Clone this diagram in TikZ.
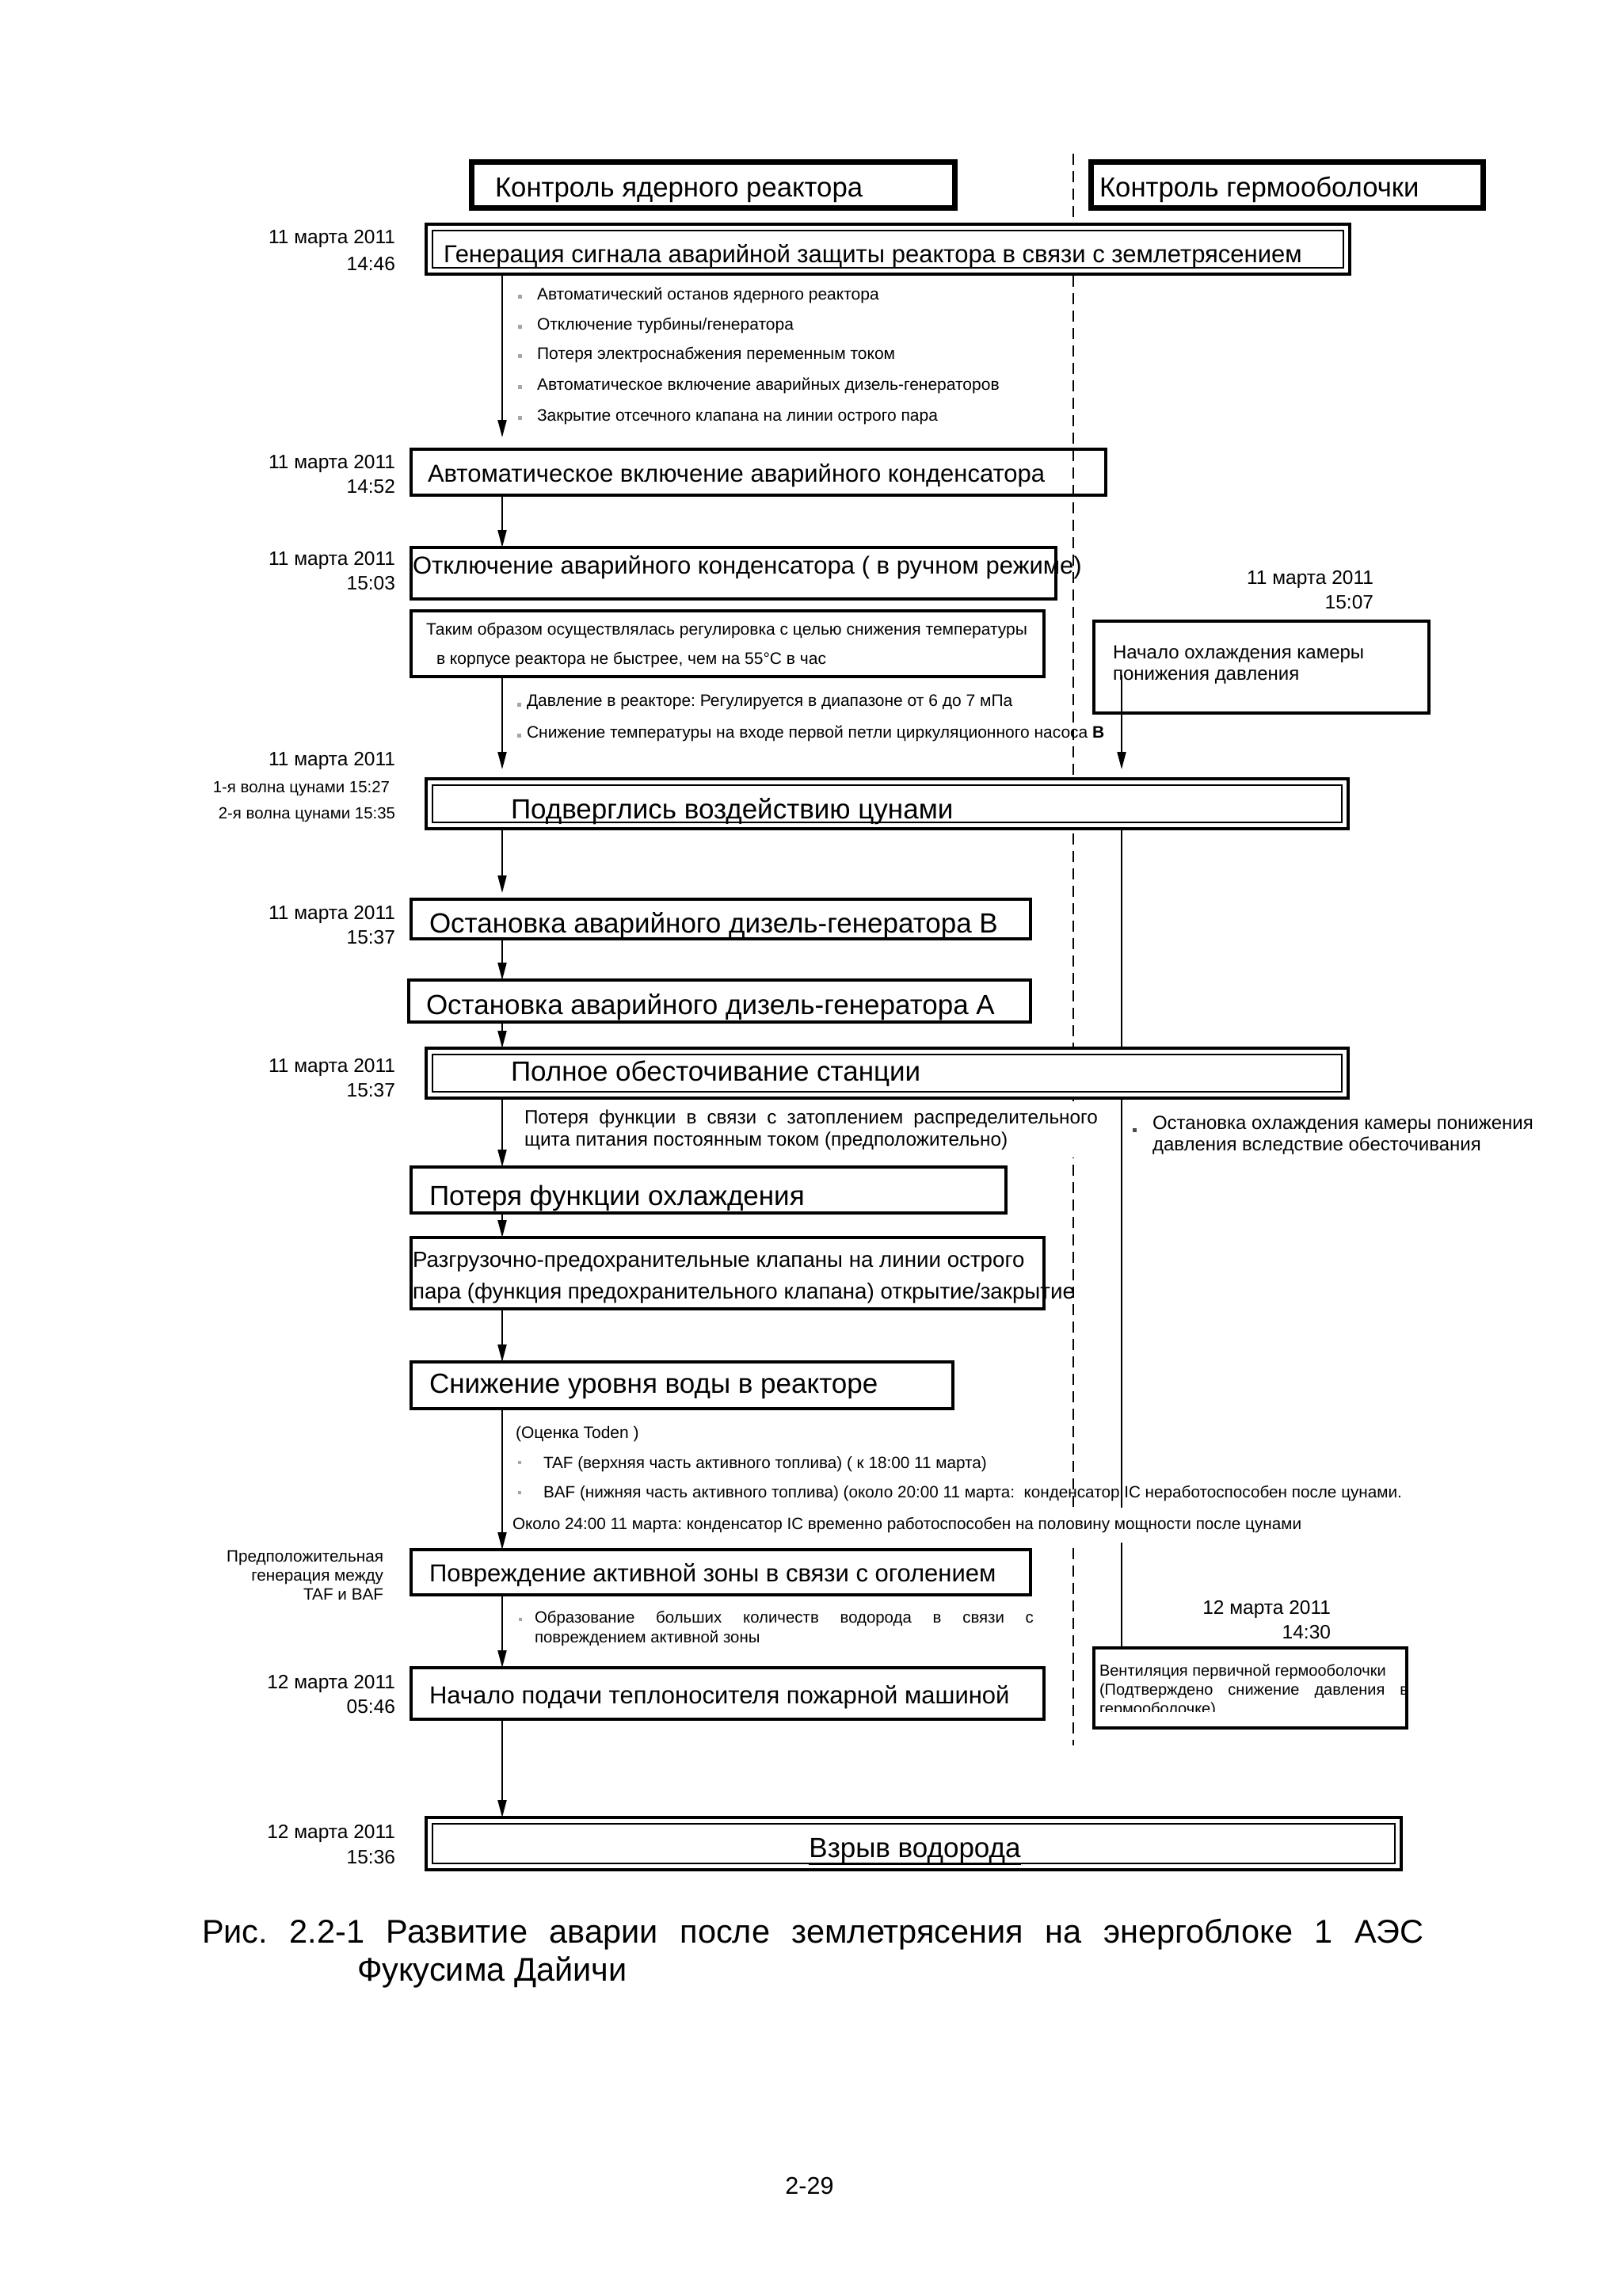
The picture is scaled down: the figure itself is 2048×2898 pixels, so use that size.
\documentclass[tikz,border=0pt]{standalone}
\usepackage{fontspec}
\setmainfont{Liberation Sans}
\usetikzlibrary{arrows.meta,fit}
\newcommand\fsz[2]{\fontsize{#1pt}{#2pt}\selectfont}
\newcommand\innerframe[1]{\draw[line width=2pt] ([shift={(8,8)}]#1.north west) rectangle ([shift={(-8,-8)}]#1.south east);}
\begin{document}
\frenchspacing
\begin{tikzpicture}[x=1pt,y=-1pt,
  every node/.style={inner sep=0pt, outer sep=0pt},
  hdr/.style={draw, line width=7pt},
  sbox/.style={draw, line width=3.5pt},
  dbox/.style={draw, line width=4.5pt, fill=white},
  arr/.style={line width=2pt, -{Triangle[length=22pt,width=11pt]}},
  ln/.style={line width=2pt},
  big/.style={font=\fsz{31}{37}, anchor=mid west},
  bigger/.style={font=\fsz{35}{40}, anchor=mid west},
  sml/.style={font=\fsz{21}{25}, anchor=mid west},
  date/.style={font=\fsz{24.5}{31}, align=right, anchor=base east},
  blt/.style={fill=black!35, minimum size=5pt}
]
\fill[white] (0,0) rectangle (2048,2898);
\useasboundingbox (0,0) rectangle (2048,2898);

\coordinate (ax) at (634,0);
\coordinate (rx) at (1416,0);
\coordinate (dtop) at (1355,194);
\coordinate (dbot) at (1355,2203);

% dashed column separator
\draw[line width=2pt, dash pattern=on 14pt off 8pt] (dtop) -- (dbot);

% boxes
\node[hdr, fit={(595,205)(1205,262)}] (h1) {};
\node[hdr, fit={(1377,205)(1872,262)}] (h2) {};
\node[dbox, fit={(538,283)(1704,346)}] (b1) {};
\node[sbox, fit={(519,567)(1396,625)}] (b2) {};
\node[sbox, fit={(519,691)(1333,756)}] (b3) {};
\node[sbox, fit={(519,771)(1318,854)}] (b4) {};
\node[sbox, fit={(1381,784)(1804,900)}] (b5) {};
\node[dbox, fit={(538,983)(1702,1046)}] (b6) {};
\node[sbox, fit={(519,1135)(1301,1185)}] (b7) {};
\node[sbox, fit={(516,1237)(1301,1290)}] (b8) {};
\node[dbox, fit={(538,1323)(1702,1386)}] (b9) {};
\node[sbox, fit={(519,1473)(1270,1531)}] (b10) {};
\node[sbox, fit={(519,1562)(1318,1652)}] (b11) {};
\node[sbox, fit={(519,1719)(1203,1778)}] (b12) {};
\node[sbox, fit={(519,1956)(1301,2013)}] (b13) {};
\node[sbox, fit={(1381,2080)(1776,2181)}] (b14) {};
\node[sbox, fit={(519,2105)(1318,2170)}] (b15) {};
\node[dbox, fit={(538,2294)(1769,2360)}] (b16) {};
\innerframe{b1}
\innerframe{b6}
\innerframe{b9}
\innerframe{b16}

% connectors
\draw[arr] (b1.south -| ax) -- ([yshift=15pt]b2.north -| ax);
\draw[arr] (b2.south -| ax) -- (b3.north -| ax);
\draw[arr] (b4.south -| ax) -- ([yshift=12pt]b6.north -| ax);
\draw[arr] ([yshift=48pt]b5.south -| rx) -- ([yshift=12pt]b6.north -| rx);
\draw[arr] (b6.south -| ax) -- ([yshift=8pt]b7.north -| ax);
\draw[arr] (b7.south -| ax) -- (b8.north -| ax);
\draw[arr] (b8.south -| ax) -- (b9.north -| ax);
\draw[arr] (b9.south -| ax) -- (b10.north -| ax);
\draw[arr] (b10.south -| ax) -- (b11.north -| ax);
\draw[arr] (b11.south -| ax) -- (b12.north -| ax);
\draw[arr] (b12.south -| ax) -- (b13.north -| ax);
\draw[arr] (b13.south -| ax) -- (b15.north -| ax);
\draw[arr] (b15.south -| ax) -- (b16.north -| ax);
\draw[ln] (b6.south -| rx) -- (b9.north -| rx);
\draw[ln] (b9.south -| rx) -- (b14.north -| rx);

% header texts
\node[font=\fsz{34.7}{40}, anchor=mid west] (th1) at (625,246) {Контроль ядерного реактора};
\node[font=\fsz{34.7}{40}, anchor=mid west] (th2) at (1388,246) {Контроль гермооболочки};

% box texts
\node[big] (t1) at (560,329) {Генерация сигнала аварийной защиты реактора в связи с землетрясением};
\node[big] (t2) at (540,606) {Автоматическое включение аварийного конденсатора};
\node[big] (t3) at (521,722) {Отключение аварийного конденсатора ( в ручном режиме)};
\node[font=\fsz{21}{37}, align=left, anchor=base west] (t4) at (538,838) {Таким образом осуществлялась регулировка с целью снижения температуры\\\hspace*{13pt}в корпусе реактора не быстрее, чем на 55°C в час};
\node[font=\fsz{24}{27}, align=left, anchor=base west] (t5) at (1405,858) {Начало охлаждения камеры\\понижения давления};
\node[bigger] (t6) at (645,1031) {Подверглись воздействию цунами};
\node[bigger] (t7) at (542,1175) {Остановка аварийного дизель-генератора В};
\node[bigger] (t8) at (538,1278) {Остановка аварийного дизель-генератора А};
\node[bigger] (t9) at (645,1362) {Полное обесточивание станции};
\node[bigger] (t10) at (542,1519) {Потеря функции охлаждения};
\node[font=\fsz{27.7}{40}, align=left, anchor=base west] (t11) at (521,1639) {Разгрузочно-предохранительные клапаны на линии острого\\пара (функция предохранительного клапана) открытие/закрытие};
\node[bigger] (t12) at (542,1756) {Снижение уровня воды в реакторе};
\node[big] (t13) at (542,1994) {Повреждение активной зоны в связи с оголением};
\node[big] (t15) at (542,2148) {Начало подачи теплоносителя пожарной машиной};
\node[bigger, anchor=mid] (t16) at (1155,2342) {\underline{Взрыв водорода}};
\begin{scope}
\clip (1383,2082) rectangle (1774,2160);
\node[font=\fsz{20}{24}, align=left, anchor=base west] (t14) at (1388,2163) {Вентиляция первичной гермооболочки\\\makebox[390pt][s]{(Подтверждено снижение давления в}\\гермооболочке)};
\end{scope}

% dates
\node[date, font=\fsz{24.5}{34}] (d1) at (499,341) {11 марта 2011\\14:46};
\node[date] (d2) at (499,622) {11 марта 2011\\14:52};
\node[date] (d3) at (499,744) {11 марта 2011\\15:03};
\node[date] (d4) at (1734,768) {11 марта 2011\\15:07};
\node[date] (d5) at (499,966) {11 марта 2011};
\node[font=\fsz{20.4}{24}, anchor=mid east] (d5a) at (492,998) {1-я волна цунами 15:27};
\node[font=\fsz{20.4}{24}, anchor=mid east] (d5b) at (499,1031) {2-я волна цунами 15:35};
\node[date] (d6) at (499,1191) {11 марта 2011\\15:37};
\node[date] (d7) at (499,1384) {11 марта 2011\\15:37};
\node[font=\fsz{20.7}{24}, align=right, anchor=base east] (d8) at (484,2019) {Предположительная\\генерация между\\TAF и BAF};
\node[date] (d9) at (1680,2068) {12 марта 2011\\14:30};
\node[date] (d10) at (499,2162) {12 марта 2011\\05:46};
\node[date, font=\fsz{24.5}{32}] (d11) at (499,2352) {12 марта 2011\\15:36};

% bullet lists
\node[blt] (p1) at (656,374) {};
\node[blt] (p2) at (656,412) {};
\node[blt] (p3) at (656,449) {};
\node[blt] (p4) at (656,488) {};
\node[blt] (p5) at (656,527) {};
\node[sml] (s1) at (678,376) {Автоматический останов ядерного реактора};
\node[sml] (s2) at (678,414) {Отключение турбины/генератора};
\node[sml] (s3) at (678,451) {Потеря электроснабжения переменным током};
\node[sml] (s4) at (678,490) {Автоматическое включение аварийных дизель-генераторов};
\node[sml] (s5) at (678,529) {Закрытие отсечного клапана на линии острого пара};

\node[blt] (p6) at (655,889) {};
\node[blt] (p7) at (655,928) {};
\node[sml] (s6) at (665,889) {Давление в реакторе: Регулируется в диапазоне от 6 до 7 мПа};
\node[sml] (s7) at (665,929) {Снижение температуры на входе первой петли циркуляционного насоса \textbf{B}};

\node[font=\fsz{24.3}{28}, align=left, anchor=base west, fill=white, inner ysep=10pt] (s8) at (662,1446) {\makebox[724pt][s]{Потеря функции в связи с затоплением распределительного}\\щита питания постоянным током (предположительно)};
\node[fill=black!70, minimum size=5pt] (p8) at (1432,1426) {};
\node[font=\fsz{24}{27}, align=left, anchor=base west] (s9) at (1455,1452) {Остановка охлаждения камеры понижения\\давления вследствие обесточивания};

\node[sml] (s10) at (651,1813) {(Оценка Toden )};
\node[blt, minimum size=4pt] (p9) at (656,1846) {};
\node[blt, minimum size=4pt] (p10) at (656,1884) {};
\node[sml, font=\fsz{20.7}{24}] (s11) at (686,1851) {TAF (верхняя часть активного топлива) ( к 18:00 11 марта)};
\node[sml, font=\fsz{20.7}{24}] (s12) at (686,1888) {BAF (нижняя часть активного топлива) (около 20:00 11 марта:\ \ конденсатор IC неработоспособен после цунами.};
\node[sml, font=\fsz{20.7}{24}, fill=white, inner ysep=12pt] (s13) at (647,1928) {Около 24:00 11 марта: конденсатор IC временно работоспособен на половину мощности после цунами};

\node[blt, minimum size=4pt] (p11) at (657,2044) {};
\node[font=\fsz{20.4}{25}, align=left, anchor=base west] (s14) at (675,2073) {\makebox[630pt][s]{Образование больших количеств водорода в связи с}\\повреждением активной зоны};

% caption and page number
\node[font=\fsz{41.5}{48}, align=left, anchor=base west] (cap) at (255,2500) {\makebox[1542pt][s]{Рис. 2.2-1 Развитие аварии после землетрясения на энергоблоке 1 АЭС}\\\hspace*{196pt}Фукусима Дайичи};
\node[font=\fsz{30.5}{36}, anchor=mid] (pg) at (1022,2767) {2-29};
\end{tikzpicture}
\end{document}
